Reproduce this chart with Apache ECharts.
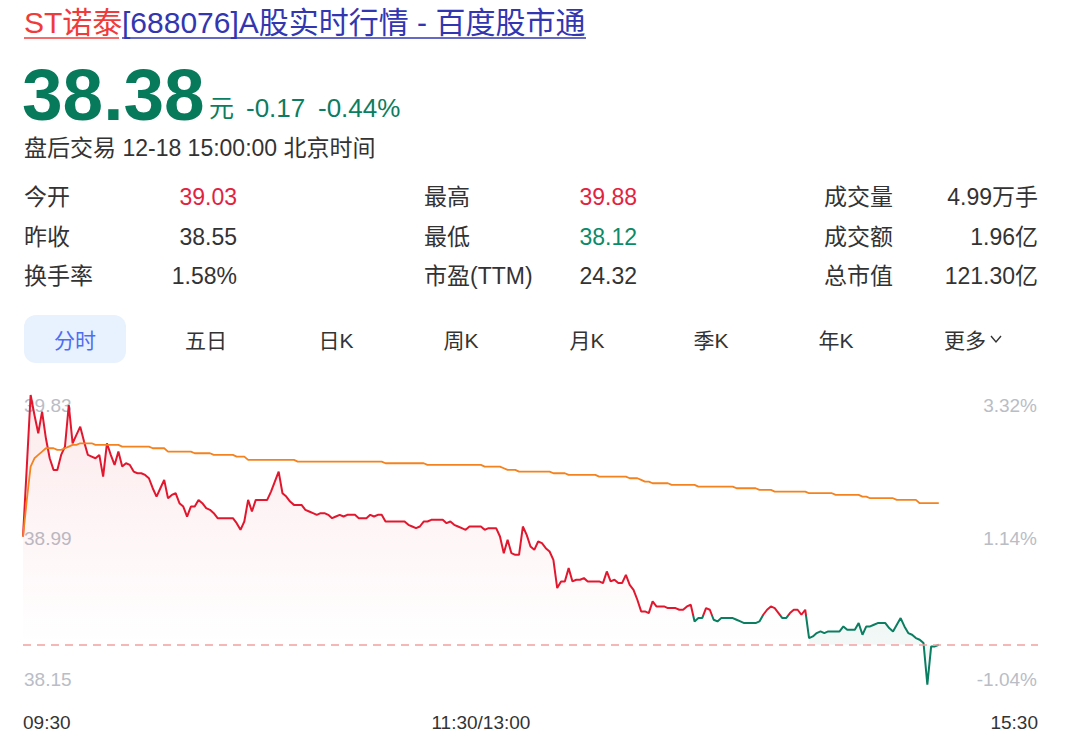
<!DOCTYPE html>
<html>
<head>
<meta charset="utf-8">
<script src="https://cdn.jsdelivr.net/npm/echarts@6/dist/echarts.min.js"></script>
<style>
html,body{margin:0;padding:0;background:#fff;}
#c{width:1080px;height:751px;}
</style>
</head>
<body>
<div id="c"></div>
<script>
// ---------- data ----------
const prevClose = 38.55;
const lastPrice = 38.38;
const dayHigh = 39.88;
const dayLow = 38.12;

// minute prices 09:30 .. 15:00 (241 points)
const price = [
39.03,39.45,39.88,39.76,39.65,39.78,39.62,39.50,39.43,39.43,
39.52,39.57,39.82,39.59,39.64,39.69,39.60,39.52,39.51,39.50,
39.52,39.39,39.59,39.52,39.46,39.54,39.45,39.47,39.46,39.42,
39.41,39.41,39.40,39.38,39.32,39.27,39.32,39.37,39.26,39.28,
39.29,39.23,39.21,39.15,39.21,39.21,39.25,39.23,39.20,39.19,
39.17,39.14,39.14,39.14,39.14,39.14,39.11,39.07,39.12,39.25,
39.18,39.25,39.25,39.25,39.25,39.30,39.36,39.42,39.29,39.27,
39.24,39.22,39.22,39.22,39.19,39.18,39.17,39.16,39.17,39.17,
39.16,39.14,39.15,39.16,39.15,39.16,39.16,39.16,39.14,39.14,
39.14,39.16,39.15,39.16,39.16,39.12,39.12,39.12,39.12,39.12,
39.12,39.10,39.09,39.08,39.09,39.12,39.12,39.13,39.13,39.13,
39.13,39.11,39.12,39.10,39.09,39.08,39.07,39.09,39.09,39.09,
39.09,39.07,39.08,39.08,39.08,39.03,38.93,39.01,38.93,38.92,
38.92,39.09,39.04,38.97,38.95,39.00,38.99,38.96,38.94,38.89,
38.72,38.76,38.76,38.84,38.76,38.77,38.77,38.78,38.76,38.76,
38.76,38.76,38.75,38.82,38.76,38.77,38.75,38.75,38.80,38.74,
38.71,38.65,38.58,38.58,38.57,38.64,38.61,38.61,38.61,38.60,
38.60,38.60,38.59,38.59,38.61,38.62,38.52,38.54,38.54,38.60,
38.59,38.53,38.52,38.54,38.54,38.54,38.54,38.53,38.52,38.51,
38.51,38.51,38.51,38.52,38.56,38.59,38.61,38.60,38.57,38.54,
38.54,38.57,38.59,38.59,38.56,38.59,38.42,38.43,38.45,38.46,
38.45,38.46,38.46,38.46,38.46,38.49,38.47,38.47,38.47,38.51,
38.44,38.49,38.49,38.50,38.51,38.51,38.51,38.48,38.46,38.50,
38.54,38.49,38.45,38.44,38.42,38.41,38.39,38.14,38.37,38.37,
38.38
];

// average price line (241 points)
const avgPrice = [
39.03,39.25,39.45,39.50,39.52,39.54,39.56,39.56,39.56,39.55,
39.55,39.56,39.57,39.58,39.58,39.59,39.59,39.59,39.59,39.58,
39.58,39.58,39.58,39.58,39.58,39.58,39.57,39.57,39.57,39.57,
39.57,39.57,39.57,39.57,39.56,39.56,39.56,39.56,39.54,39.54,
39.54,39.54,39.54,39.54,39.54,39.53,39.53,39.53,39.53,39.53,
39.52,39.52,39.52,39.52,39.52,39.52,39.51,39.51,39.51,39.49,
39.49,39.49,39.49,39.49,39.49,39.49,39.49,39.49,39.49,39.49,
39.49,39.49,39.48,39.48,39.48,39.48,39.48,39.48,39.48,39.48,
39.48,39.48,39.48,39.48,39.48,39.48,39.48,39.48,39.48,39.48,
39.48,39.48,39.48,39.48,39.48,39.47,39.47,39.47,39.47,39.47,
39.47,39.47,39.47,39.47,39.47,39.47,39.46,39.46,39.46,39.46,
39.46,39.46,39.46,39.46,39.46,39.46,39.46,39.46,39.46,39.46,
39.46,39.45,39.45,39.45,39.45,39.45,39.44,39.43,39.43,39.43,
39.42,39.42,39.42,39.42,39.42,39.42,39.42,39.42,39.42,39.41,
39.41,39.41,39.41,39.40,39.40,39.40,39.40,39.40,39.40,39.40,
39.40,39.39,39.39,39.39,39.39,39.39,39.39,39.39,39.39,39.38,
39.38,39.38,39.37,39.36,39.36,39.35,39.35,39.35,39.35,39.35,
39.34,39.34,39.34,39.34,39.34,39.34,39.34,39.33,39.33,39.33,
39.33,39.33,39.33,39.33,39.33,39.33,39.33,39.32,39.32,39.32,
39.32,39.32,39.32,39.31,39.31,39.31,39.31,39.30,39.30,39.30,
39.30,39.30,39.30,39.30,39.30,39.30,39.29,39.29,39.29,39.29,
39.29,39.29,39.29,39.28,39.28,39.28,39.28,39.28,39.28,39.28,
39.27,39.27,39.26,39.26,39.26,39.26,39.26,39.26,39.26,39.25,
39.25,39.25,39.25,39.25,39.25,39.23,39.23,39.23,39.23,39.23,
39.23
];

// index where the price falls below the previous close for good (area colour switch)
const greenFrom = 206;

// tick labels
const yLabelValues = [38.15, 38.99, 39.83];
const xLabelIndex = [0, 120, 266];
const xLabelText = ['09:30', '11:30/13:00', '15:30'];

// header texts
const titleRed = 'ST诺泰';
const titleBlue = '[688076]A股实时行情 - 百度股市通';
const bigPrice = '38.38';
const changeAbs = '-0.17';
const changePct = '-0.44%';
const tradeInfo = '盘后交易 12-18 15:00:00 北京时间';

const statLabels1 = ['今开', '昨收', '换手率'];
const statValues1 = ['39.03', '38.55', '1.58%'];
const statLabels2 = ['最高', '最低', '市盈(TTM)'];
const statValues2 = ['39.88', '38.12', '24.32'];
const statLabels3 = ['成交量', '成交额', '总市值'];
const statValues3 = ['4.99万手', '1.96亿', '121.30亿'];

const tabs = ['分时', '五日', '日K', '周K', '月K', '季K', '年K', '更多'];

// ---------- derived ----------
function pad(n){ return n < 10 ? '0' + n : '' + n; }
const times = [];
for (let m = 9*60+30; m <= 11*60+30; m++) times.push(pad(Math.floor(m/60)) + ':' + pad(m%60));
for (let m = 13*60+1; m <= 15*60; m++) times.push(pad(Math.floor(m/60)) + ':' + pad(m%60));
for (let m = 15*60+5; m <= 15*60+30; m++) times.push(pad(Math.floor(m/60)) + ':' + pad(m%60));

const redArea = price.map((v, i) => i <= greenFrom ? v : null);
const greenArea = price.map((v, i) => i >= greenFrom ? v : null);

const RED = '#e2172e';
const GREEN = '#0b7d61';
const ORANGE = '#f4821f';
const FONT = "'Liberation Sans', Arial, 'Noto Sans CJK SC', sans-serif";

function txt(x, y, text, size, color, align, weight) {
  return {
    type: 'text', x: x, y: y, silent: true,
    style: {
      text: text, fill: color,
      font: (weight || 'normal') + ' ' + size + 'px ' + FONT,
      textAlign: align || 'left', textVerticalAlign: 'middle',
      align: align || 'left', verticalAlign: 'middle'
    }
  };
}

const graphics = [];
// title
graphics.push(txt(24, 22, titleRed, 30, '#f03b3b'));
graphics.push(txt(122, 22, titleBlue, 30, '#3236b0'));
graphics.push({type:'line', silent:true, shape:{x1:24,y1:38,x2:119,y2:38}, style:{stroke:'#f03b3b', lineWidth:1.5}});
graphics.push({type:'line', silent:true, shape:{x1:122,y1:38,x2:586,y2:38}, style:{stroke:'#3236b0', lineWidth:1.5}});
// big price
graphics.push(txt(22, 94, bigPrice, 73, '#087a5c', 'left', 'bold'));
graphics.push(txt(209, 108, '元', 25, GREEN));
graphics.push(txt(246, 108, changeAbs, 26, GREEN));
graphics.push(txt(318, 108, changePct, 26, GREEN));
graphics.push(txt(24, 148, tradeInfo, 23, '#333333'));
// stats
const rowY = [197, 237, 276];
const colLabelX = [24, 424, 824];
const colValueX = [237, 637, 1038];
const statLabels = [statLabels1, statLabels2, statLabels3];
const statValues = [statValues1, statValues2, statValues3];
const valueColors = [['#e2233e', '#333333', '#333333'], ['#e2233e', '#0b8a68', '#333333'], ['#333333', '#333333', '#333333']];
for (let c = 0; c < 3; c++) {
  for (let r = 0; r < 3; r++) {
    graphics.push(txt(colLabelX[c], rowY[r], statLabels[c][r], 23, '#333333'));
    graphics.push(txt(colValueX[c], rowY[r], statValues[c][r], 23, valueColors[c][r], 'right'));
  }
}
// tabs
graphics.push({type:'rect', silent:true, shape:{x:24, y:315, width:102, height:48, r:12}, style:{fill:'#e8f1fe'}});
const tabX = [75, 206, 336, 461, 587, 711, 836, 965];
for (let i = 0; i < tabs.length; i++) {
  graphics.push(txt(tabX[i], 340, tabs[i], 21, i === 0 ? '#4e6ef2' : '#333333', 'center'));
}
graphics.push({type:'polyline', silent:true, shape:{points:[[991,336],[996,342],[1001,336]]}, style:{stroke:'#333333', lineWidth:1.4, fill:null}});

// y label nudges (top / middle / bottom label)
const yRich = {
  t: {padding: [4, 0, 0, 0]},
  m: {padding: [0, 0, 10, 0]},
  b: {padding: [0, 0, 8, 0]}
};
function yKey(v) { return v === yLabelValues[2] ? 't' : (v === yLabelValues[1] ? 'm' : 'b'); }

// ---------- chart ----------
const chart = echarts.init(document.getElementById('c'), null, {renderer: 'svg'});
const yAxisCommon = {
  type: 'value', min: dayLow, max: dayHigh, scale: true,
  axisLine: {show: false}, axisTick: {show: false}, splitLine: {show: false}
};
chart.setOption({
  animation: false,
  backgroundColor: '#ffffff',
  textStyle: {fontFamily: FONT},
  graphic: graphics,
  grid: {left: 23, right: 42, top: 395, bottom: 63},
  xAxis: {
    type: 'category', data: times, boundaryGap: false,
    axisLine: {show: false}, axisTick: {show: false}, splitLine: {show: false},
    axisLabel: {
      interval: (idx) => xLabelIndex.indexOf(idx) >= 0,
      showMinLabel: true, showMaxLabel: true,
      formatter: (val, idx) => { const k = xLabelIndex.indexOf(idx); return k >= 0 ? xLabelText[k] : ''; },
      alignMinLabel: 'left', alignMaxLabel: 'right',
      color: '#333333', fontSize: 19, margin: 25, fontFamily: FONT
    }
  },
  yAxis: [
    Object.assign({}, yAxisCommon, {
      position: 'left',
      axisLabel: {inside: true, margin: 1, customValues: yLabelValues, color: '#b9bdc6', fontSize: 19, fontFamily: FONT,
        rich: yRich,
        formatter: (v) => '{' + yKey(v) + '|' + v.toFixed(2) + '}'}
    }),
    Object.assign({}, yAxisCommon, {
      position: 'right',
      axisLabel: {inside: true, margin: 1, customValues: yLabelValues, color: '#b9bdc6', fontSize: 19, fontFamily: FONT,
        rich: yRich,
        formatter: (v) => '{' + yKey(v) + '|' + ((v / prevClose - 1) * 100).toFixed(2) + '%}'}
    })
  ],
  visualMap: {
    type: 'piecewise', show: false, seriesIndex: 2, dimension: 1,
    pieces: [{gte: 30, lt: prevClose, color: GREEN}, {gte: prevClose, lte: 50, color: RED}],
    outOfRange: {color: RED}
  },
  series: [
    {
      type: 'line', data: redArea, symbol: 'none', silent: true, connectNulls: false,
      lineStyle: {width: 0},
      areaStyle: {origin: lastPrice, color: new echarts.graphic.LinearGradient(0, 0, 0, 1, [
        {offset: 0, color: 'rgba(226,23,46,0.13)'}, {offset: 1, color: 'rgba(226,23,46,0.0)'}])}
    },
    {
      type: 'line', data: greenArea, symbol: 'none', silent: true, connectNulls: false,
      lineStyle: {width: 0},
      areaStyle: {origin: lastPrice, color: new echarts.graphic.LinearGradient(0, 0, 0, 1, [
        {offset: 0, color: 'rgba(11,125,97,0.10)'}, {offset: 1, color: 'rgba(11,125,97,0.02)'}])}
    },
    {
      type: 'line', data: price, symbol: 'none', silent: true,
      lineStyle: {width: 2},
      markLine: {
        silent: true, symbol: ['none', 'none'], label: {show: false},
        lineStyle: {color: '#f3a0a0', type: [8, 6], width: 1.5},
        data: [{yAxis: lastPrice}]
      }
    },
    {
      type: 'line', data: avgPrice, symbol: 'none', silent: true,
      lineStyle: {width: 1.8, color: ORANGE}, itemStyle: {color: ORANGE}
    }
  ]
});
</script>
</body>
</html>
